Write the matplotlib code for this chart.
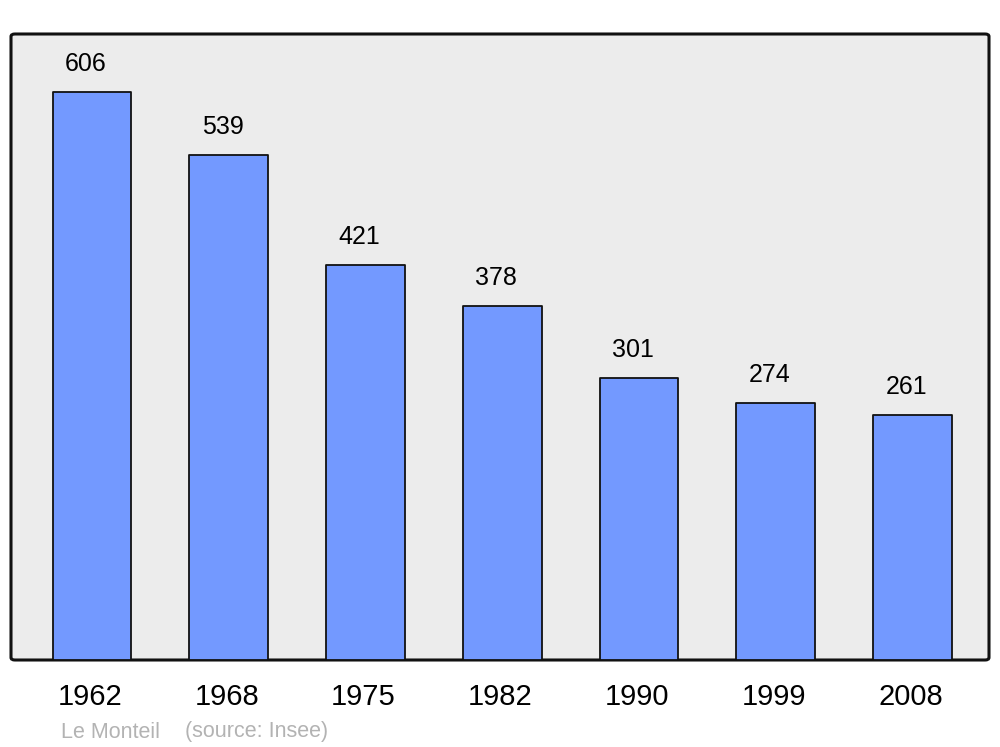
import matplotlib
matplotlib.use("Agg")
import matplotlib.pyplot as plt
from matplotlib.patches import FancyBboxPatch

years = ["1962", "1968", "1975", "1982", "1990", "1999", "2008"]
population = [606, 539, 421, 378, 301, 274, 261]
footer_name = "Le Monteil"
footer_source = "(source: Insee)"

plt.rcParams['font.family'] = ['Liberation Sans', 'DejaVu Sans']

fig = plt.figure(figsize=(10, 7.47), dpi=100)
W, H = 1000, 747
ax = fig.add_axes([11 / W, 1 - 660 / H, 978 / W, 626 / H])
ax.set_xlim(-0.592, 6.56)
ax.set_ylim(0, 668)
ax.axis('off')

frame = FancyBboxPatch((0, 0), 1, 1, boxstyle="round,pad=0,rounding_size=0.004",
                       transform=ax.transAxes, facecolor='#ececec', edgecolor='#111111',
                       linewidth=2.2, zorder=0, clip_on=False)
ax.add_patch(frame)

x = list(range(len(years)))
bars = ax.bar(x, population, width=0.575, color='#7399ff', edgecolor='#111111',
              linewidth=1.3, zorder=2)
for b in bars:
    b.set_joinstyle('round')

for xi, v in zip(x, population):
    ax.annotate(str(v), (xi, v), xytext=(-6, 28), textcoords='offset pixels',
                ha='center', va='center', fontsize=18, color='black')

for xi, y in zip(x, years):
    ax.annotate(y, (xi, 0), xytext=(-2, -37), textcoords='offset pixels',
                ha='center', va='center', fontsize=21, color='black', annotation_clip=False)

fig.text(61 / W, 1 - 732 / H, footer_name, ha='left', va='center', fontsize=15.5, color='#b3b3b3')
fig.text(185 / W, 1 - 732 / H, footer_source, ha='left', va='center', fontsize=15.5, color='#b3b3b3')

fig.savefig("out.png", dpi=100, facecolor='white')
